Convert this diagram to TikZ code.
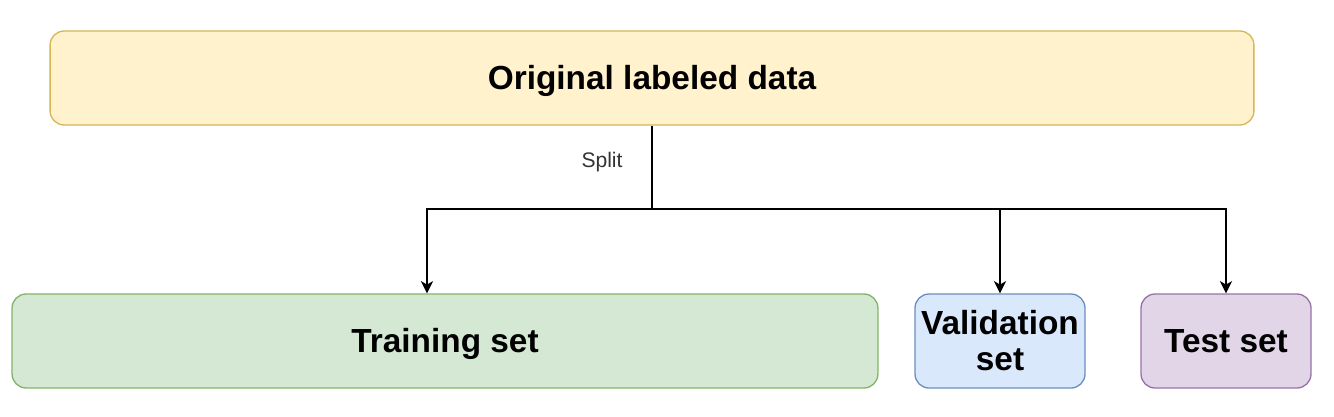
\documentclass[tikz,border=0pt]{standalone}
\usepackage{fontspec}
\setmainfont{Liberation Sans}
\usetikzlibrary{arrows.meta}

\definecolor{yellowfill}{HTML}{FFF2CC}
\definecolor{yellowline}{HTML}{D6B656}
\definecolor{greenfill}{HTML}{D5E8D4}
\definecolor{greenline}{HTML}{82B366}
\definecolor{bluefill}{HTML}{DAE8FC}
\definecolor{blueline}{HTML}{6C8EBF}
\definecolor{purplefill}{HTML}{E1D5E7}
\definecolor{purpleline}{HTML}{9673A6}
\definecolor{labelgray}{HTML}{333333}

\begin{document}
\begin{tikzpicture}[x=0.02cm, y=-0.02cm,
	setbox/.style={draw, line width=0.75pt, rounded corners=0.28cm, inner sep=0pt,
		align=center, font=\fontsize{19}{20.5}\selectfont\bfseries},
	oneline/.style={text height=17pt, text depth=4pt},
	link/.style={line width=0.7pt, black},
	arrow/.style={link, -{Stealth[length=7pt, width=7pt, inset=2pt]}}]
	\useasboundingbox (0,0) rectangle (1334,416);
	
	\node[setbox, oneline, fill=yellowfill, draw=yellowline, minimum width=24.08cm, minimum height=1.88cm] (orig) at (652,78) {Original labeled data};
	
	\node[setbox, oneline, fill=greenfill, draw=greenline, minimum width=17.32cm, minimum height=1.88cm] (train) at (445,341) {Training set};
	\node[setbox, fill=bluefill, draw=blueline, minimum width=3.4cm, minimum height=1.88cm] (val) at (1000,341) {Validation\\set};
	\node[setbox, oneline, fill=purplefill, draw=purpleline, minimum width=3.4cm, minimum height=1.88cm] (test) at (1226,341) {Test set};
	
	\coordinate (split) at (652,209);
	\coordinate (ta) at (427,209);
	
	\draw[link] (orig.south) -- (split);
	\draw[arrow] (split) -| (ta |- train.north);
	\draw[arrow] (split) -| (val.north);
	\draw[arrow] (split) -| (test.north);
	
	\node[text=labelgray, font=\fontsize{12}{14}\selectfont] (splitlabel) at (602,162) {Split};
\end{tikzpicture}
\end{document}
